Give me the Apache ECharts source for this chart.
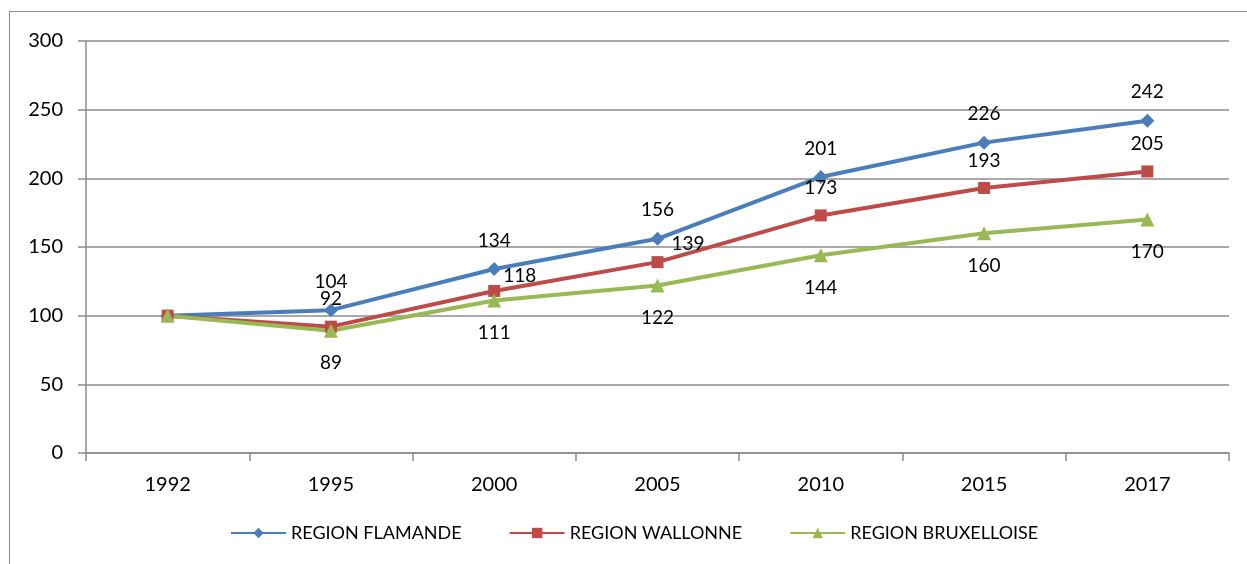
<!DOCTYPE html>
<html>
<head>
<meta charset="utf-8">
<script src="https://cdn.jsdelivr.net/npm/echarts@6/dist/echarts.min.js"></script>
<style>
  html, body { margin: 0; padding: 0; background: #fff; overflow: hidden; }
  #frame { position: absolute; left: 9px; top: 11px; width: 1300px; height: 620px; border: 1.5px solid #8c8c8c; }
  #main { position: absolute; left: 0; top: 0; width: 1247px; height: 564px; }
</style>
</head>
<body>
<div id="frame"></div>
<div id="main"></div>
<script>
// categories and values
const years = ['1992', '1995', '2000', '2005', '2010', '2015', '2017'];
const flamande = [100, 104, 134, 156, 201, 226, 242];
const wallonne = [100, 92, 118, 139, 173, 193, 205];
const bruxelloise = [100, 89, 111, 122, 144, 160, 170];

const FONT = 'Lato, "Open Sans", sans-serif';

// build data points: no label on the 1992 base point
function points(values, pos, dist, special) {
    return values.map(function (v, i) {
        if (i === 0) return { value: v, label: { show: false } };
        if (special && special[i]) return { value: v, label: special[i] };
        return { value: v, label: { position: pos, distance: dist } };
    });
}

const labelStyle = { show: true, color: '#000', fontFamily: FONT, fontSize: 19 };

const myChart = echarts.init(document.getElementById('main'));

const option = {
    animation: false,
    grid: { left: 86, right: 18, top: 41, bottom: 111 },
    legend: {
        bottom: 17,
        left: 225,
        itemWidth: 55,
        itemHeight: 13,
        itemGap: 47,
        textStyle: { fontFamily: FONT, fontSize: 18, color: '#000' },
        data: ['REGION FLAMANDE', 'REGION WALLONNE', 'REGION BRUXELLOISE']
    },
    xAxis: {
        type: 'category',
        data: years,
        boundaryGap: true,
        axisLine: { lineStyle: { color: '#8c8c8c', width: 1.5 } },
        axisTick: { show: true, length: 8, lineStyle: { color: '#8c8c8c', width: 1.5 } },
        axisLabel: { color: '#000', fontFamily: FONT, fontSize: 20, margin: 22 }
    },
    yAxis: {
        type: 'value',
        min: 0,
        max: 300,
        interval: 50,
        axisLine: { show: true, lineStyle: { color: '#8c8c8c', width: 1.5 } },
        axisTick: { show: true, length: 8, lineStyle: { color: '#8c8c8c', width: 1.5 } },
        splitLine: { lineStyle: { color: '#8c8c8c', width: 1.5 } },
        axisLabel: { color: '#000', fontFamily: FONT, fontSize: 20, margin: 23 }
    },
    series: [
        {
            name: 'REGION FLAMANDE',
            type: 'line',
            data: points(flamande, 'top', 12),
            symbol: 'diamond',
            symbolSize: 14,
            lineStyle: { color: '#4a7ebb', width: 4 },
            itemStyle: { color: '#4a7ebb' },
            label: labelStyle
        },
        {
            name: 'REGION WALLONNE',
            type: 'line',
            data: points(wallonne, 'top', 12, {
                2: { position: 'right', distance: 3, offset: [0, -15] },
                3: { position: 'right', distance: 8, offset: [0, -18] }
            }),
            symbol: 'rect',
            symbolSize: 12,
            lineStyle: { color: '#be4b48', width: 4 },
            itemStyle: { color: '#be4b48' },
            label: labelStyle
        },
        {
            name: 'REGION BRUXELLOISE',
            type: 'line',
            data: points(bruxelloise, 'bottom', 16),
            symbol: 'triangle',
            symbolSize: 14,
            lineStyle: { color: '#98b954', width: 4 },
            itemStyle: { color: '#98b954' },
            label: labelStyle
        }
    ]
};

myChart.setOption(option);
</script>
</body>
</html>
